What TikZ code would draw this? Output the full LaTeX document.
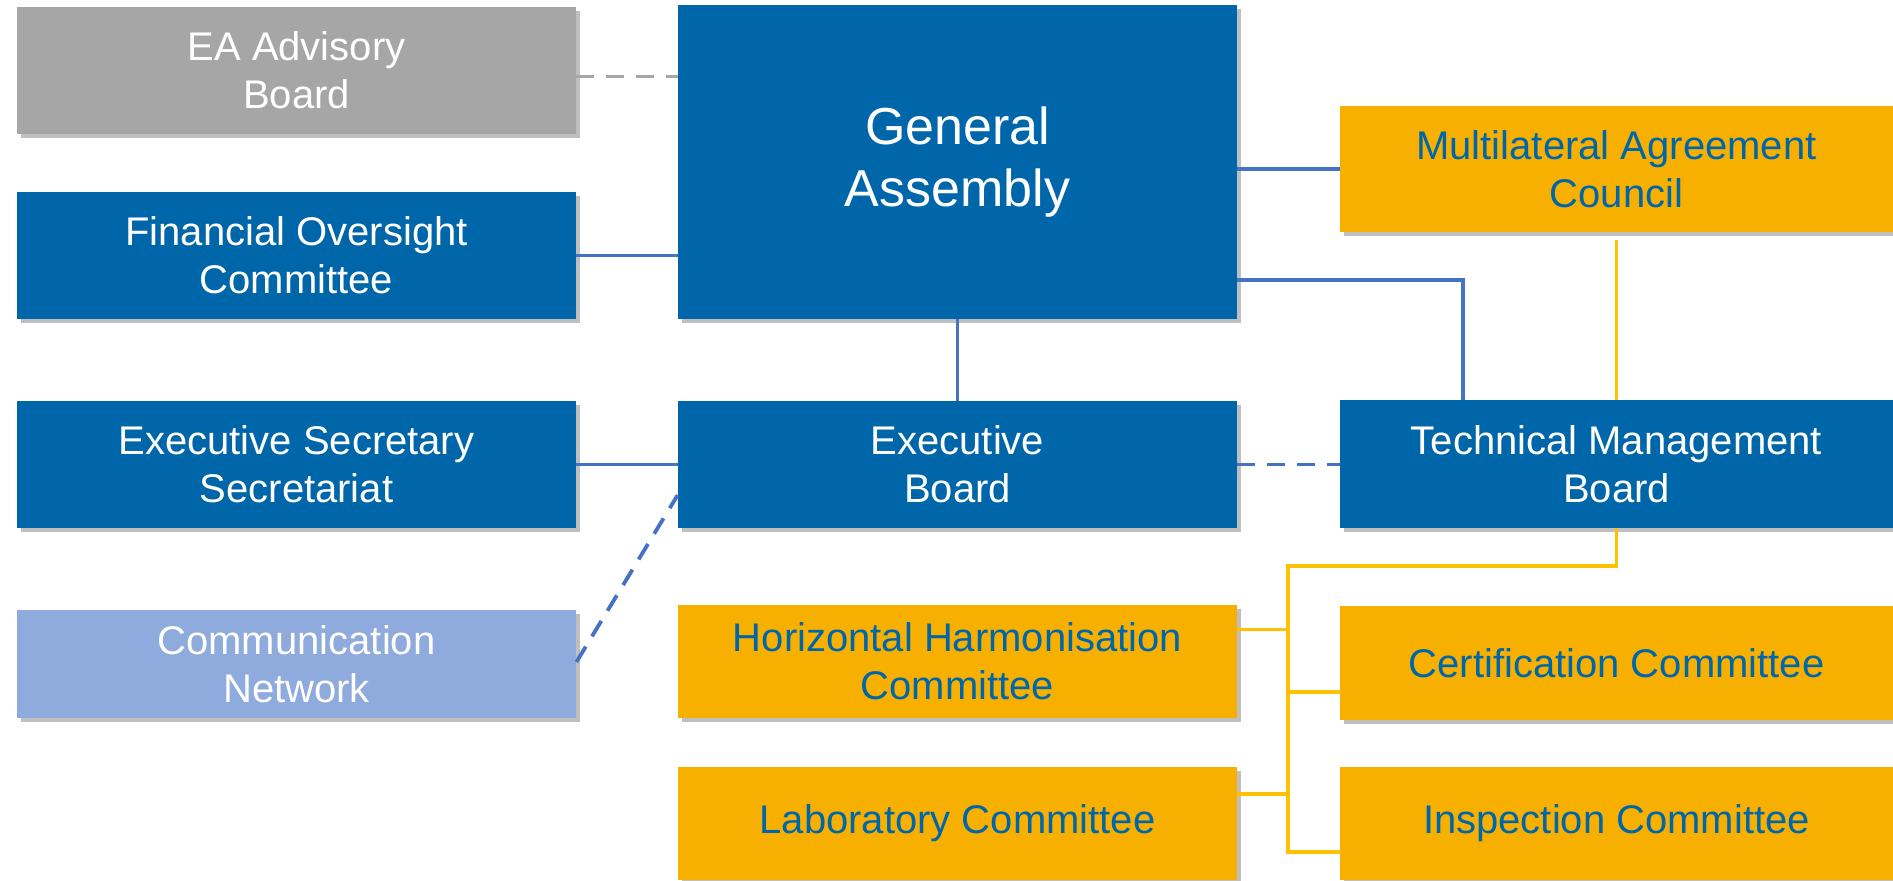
\documentclass[tikz,border=0pt]{standalone}
\usepackage{fontspec}
\setmainfont{Liberation Sans}
\usetikzlibrary{shadows,calc}
\definecolor{eablue}{RGB}{0,102,170}
\definecolor{eagray}{RGB}{166,166,166}
\definecolor{ealight}{RGB}{143,170,220}
\definecolor{eayellow}{RGB}{248,176,0}
\definecolor{linkblue}{RGB}{68,114,196}
\definecolor{linkyellow}{RGB}{255,192,0}
\begin{document}
\begin{tikzpicture}
    [x=0.5pt,y=-0.5pt,
     box/.style={rectangle,inner sep=0pt,align=center,font=\fontsize{20}{24}\selectfont,
       minimum width=279.5pt,minimum height=63.5pt,
       drop shadow={shadow xshift=2pt,shadow yshift=-2pt,fill=black,opacity=.25}},
     bluebox/.style={box,fill=eablue,text=white},
     ylwbox/.style={box,fill=eayellow,text=eablue},
     link/.style={linkblue,line width=1.9pt},
     dlink/.style={link,dash pattern=on 9pt off 6pt},
     ylink/.style={linkyellow,line width=1.9pt}]
    \useasboundingbox (0,0) rectangle (1893,880);
    % left column
    \node[box,fill=eagray,text=white] (ea) at (296.5,70.5) {EA Advisory\\ Board};
    \node[bluebox] (foc) at (296.5,255.5) {Financial Oversight\\Committee};
    \node[bluebox] (ess) at (296.5,464.5) {Executive Secretary\\Secretariat};
    \node[box,fill=ealight,text=white,minimum height=54pt] (comm) at (296.5,664) {Communication\\Network};
    % middle column
    \node[bluebox,minimum height=157pt,font=\fontsize{26}{31}\selectfont] (ga) at (957.5,162) {General\\Assembly};
    \node[bluebox] (eb) at (957.5,464.5) {Executive\\Board};
    \node[ylwbox,minimum height=56.5pt] (hhc) at (957.5,661.5) {Horizontal Harmonisation\\Committee};
    \node[ylwbox,minimum height=56.5pt] (lab) at (957.5,823.5) {Laboratory Committee};
    % right column
    \node[ylwbox,minimum width=276.5pt,minimum height=63pt] (mac) at (1616.5,169) {Multilateral Agreement\\Council};
    \node[bluebox,minimum width=276.5pt,minimum height=64pt] (tmb) at (1616.5,464) {Technical Management\\Board};
    \node[ylwbox,minimum width=276.5pt,minimum height=57pt] (cert) at (1616.5,663) {Certification Committee};
    \node[ylwbox,minimum width=276.5pt,minimum height=56.5pt] (insp) at (1616.5,823.5) {Inspection Committee};
    \coordinate (bustop) at (1288,566);
    \coordinate (busbot) at (1288,852);

    \draw[eagray,line width=1.9pt,dash pattern=on 9pt off 6pt] ($(ea.east)+(0,6)$) -- ($(ea.east -| ga.west)+(0,6)$);
    \foreach \from/\to in {foc/ga,ess/eb}
      \draw[link] (\from.east) -- (\from.east -| \to.west);
    \draw[link] (mac.west -| ga.east) -- (mac.west);
    \draw[link] (ga.south) -- (eb.north);
    \draw[link] ($(ga.east)!0.75!(ga.south east)$) -| ($(tmb.north)!0.555!(tmb.north west)$);
    \draw[dlink] (eb.east) -- (eb.east -| tmb.west);
    \draw[dlink] ($(comm.east)+(0,-2)$) -- ($(eb.west)!0.48!(eb.south west)$);
    \draw[ylink] ($(mac.south)+(0,8)$) -- (tmb.north);
    \draw[ylink] (tmb.south) |- (bustop) -- (busbot) -- (busbot -| insp.west);
    \draw[ylink] ($(hhc.east)+(0,-32)$) -- ++(0,0) -| (bustop |- 0,629);
    \draw[ylink] ($(lab.east)+(0,-29.5)$) -- (bustop |- 0,794);
    \draw[ylink] (bustop |- 0,692) -- ($(cert.west)+(0,29)$);
\end{tikzpicture}
\end{document}
